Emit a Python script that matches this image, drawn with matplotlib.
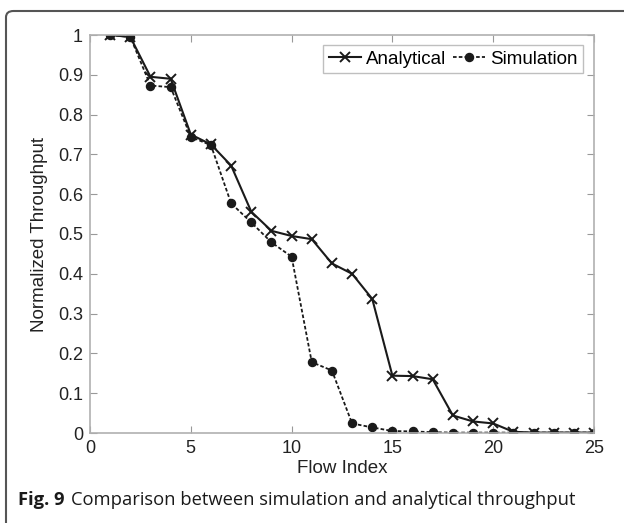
import matplotlib.pyplot as plt
from matplotlib.patches import FancyBboxPatch

flow = list(range(1, 26))
analytical = [1.0, 0.995, 0.895, 0.89, 0.75, 0.725, 0.672, 0.556, 0.508, 0.495,
              0.487, 0.426, 0.40, 0.337, 0.144, 0.143, 0.135, 0.044, 0.029, 0.024,
              0.003, 0.001, 0.001, 0.001, 0.001]
simulation = [1.0, 0.995, 0.873, 0.869, 0.744, 0.723, 0.577, 0.529, 0.479, 0.443,
              0.178, 0.157, 0.024, 0.014, 0.005, 0.004, 0.002, 0.001, 0.001, 0.001,
              0.001, 0.001, 0.001, 0.001, 0.001]
xticks = [0, 5, 10, 15, 20, 25]
yticks = [0, 0.1, 0.2, 0.3, 0.4, 0.5, 0.6, 0.7, 0.8, 0.9, 1]

W, H = 624, 523
fig = plt.figure(figsize=(W / 100, H / 100), dpi=100)
ax = fig.add_axes([90 / W, 1 - 433 / H, (594 - 90) / W, (433 - 35) / H])

ax.plot(flow, analytical, '-', color='#1a1a1a', lw=1.5, marker='x', ms=6.5,
        mew=1.4, label='Analytical')
ax.plot(flow, simulation, '--', color='#1a1a1a', lw=1.3, marker='o', ms=5.8,
        dashes=(2, 1.2), label='Simulation')

ax.set_xlim(0, 25)
ax.set_ylim(0, 1)
ax.set_xticks(xticks)
ax.set_yticks(yticks)
ax.set_yticklabels(['0', '0.1', '0.2', '0.3', '0.4', '0.5', '0.6', '0.7', '0.8', '0.9', '1'])
for s in ax.spines.values():
    s.set_color('#b0b0b0')
    s.set_linewidth(1.2)
ax.tick_params(direction='in', top=True, right=True, color='#999999', length=5,
               labelsize=13, labelcolor='#222222', pad=5)
for lbl in ax.get_xticklabels() + ax.get_yticklabels():
    lbl.set_family('Liberation Sans')
ax.set_xlabel('Flow Index', family='Liberation Sans', fontsize=13.5, color='#222222', labelpad=2)
ax.set_ylabel('Normalized Throughput', family='Liberation Sans', fontsize=13.5, color='#222222', labelpad=7)

leg = ax.legend(loc='upper right', ncol=2, frameon=True, fancybox=False,
                prop={'family': 'Liberation Sans', 'size': 13.5},
                handlelength=1.7, columnspacing=0.4, handletextpad=0.25,
                borderpad=0.3, borderaxespad=0,
                bbox_to_anchor=((583 - 90) / 504, (433 - 45) / 398))
leg.get_frame().set_edgecolor('#b0b0b0')
leg.get_frame().set_linewidth(1.0)

# outer rounded frame of the figure panel
frame = FancyBboxPatch((6 / W, -0.2), 1.2, 1 - 11 / H + 0.2,
                       boxstyle='round,pad=0,rounding_size=0.012',
                       transform=fig.transFigure, fill=False,
                       edgecolor='#555555', lw=1.5, clip_on=False)
fig.patches.append(frame)

fig.text(18 / W, 1 - 505 / H, 'Fig. 9', family='Open Sans', fontweight='bold',
         fontsize=13.2, color='#1a1a1a', va='baseline')
fig.text(71 / W, 1 - 505 / H, 'Comparison between simulation and analytical throughput',
         family='Open Sans', fontsize=13.2, color='#1a1a1a', va='baseline')

fig.savefig('out.png', dpi=100)
